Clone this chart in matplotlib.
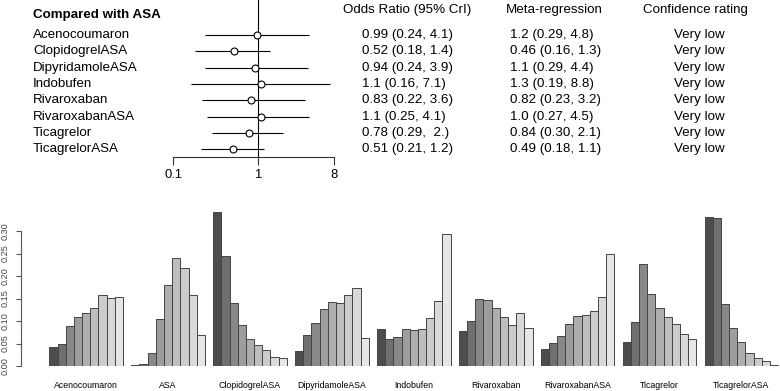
import numpy as np
import matplotlib
matplotlib.use("Agg")
import matplotlib.pyplot as plt
from matplotlib.transforms import blended_transform_factory

plt.rcParams['font.family'] = ['Liberation Sans', 'DejaVu Sans']

# forest plot data (compared with ASA)
treatments = ['Acenocoumaron', 'ClopidogrelASA', 'DipyridamoleASA', 'Indobufen',
              'Rivaroxaban', 'RivaroxabanASA', 'Ticagrelor', 'TicagrelorASA']
or_est = [0.99, 0.52, 0.94, 1.1, 0.83, 1.1, 0.78, 0.51]
or_low = [0.24, 0.18, 0.24, 0.16, 0.22, 0.25, 0.29, 0.21]
or_high = [4.1, 1.4, 3.9, 7.1, 3.6, 4.1, 2.0, 1.2]
or_text = ['0.99 (0.24, 4.1)', '0.52 (0.18, 1.4)', '0.94 (0.24, 3.9)', '1.1 (0.16, 7.1)',
           '0.83 (0.22, 3.6)', '1.1 (0.25, 4.1)', '0.78 (0.29,  2.)', '0.51 (0.21, 1.2)']
meta_text = ['1.2 (0.29, 4.8)', '0.46 (0.16, 1.3)', '1.1 (0.29, 4.4)', '1.3 (0.19, 8.8)',
             '0.82 (0.23, 3.2)', '1.0 (0.27, 4.5)', '0.84 (0.30, 2.1)', '0.49 (0.18, 1.1)']
confidence = ['Very low'] * 8
forest_ticks = [0.1, 1, 8]

# rank probabilities (9 ranks per treatment)
groups = ['Acenocoumaron', 'ASA', 'ClopidogrelASA', 'DipyridamoleASA', 'Indobufen',
          'Rivaroxaban', 'RivaroxabanASA', 'Ticagrelor', 'TicagrelorASA']
rank_probs = [
    [0.042, 0.050, 0.090, 0.109, 0.118, 0.129, 0.157, 0.151, 0.154],
    [0.002, 0.004, 0.029, 0.104, 0.179, 0.239, 0.217, 0.157, 0.068],
    [0.342, 0.244, 0.141, 0.092, 0.059, 0.047, 0.035, 0.020, 0.018],
    [0.033, 0.068, 0.096, 0.126, 0.142, 0.140, 0.158, 0.173, 0.063],
    [0.082, 0.060, 0.065, 0.083, 0.079, 0.083, 0.107, 0.145, 0.294],
    [0.077, 0.099, 0.149, 0.146, 0.129, 0.108, 0.091, 0.117, 0.085],
    [0.038, 0.051, 0.066, 0.093, 0.111, 0.113, 0.122, 0.153, 0.250],
    [0.054, 0.097, 0.226, 0.160, 0.129, 0.110, 0.093, 0.071, 0.060],
    [0.332, 0.328, 0.138, 0.085, 0.054, 0.029, 0.018, 0.012, 0.003],
]
yticks = [0.00, 0.05, 0.10, 0.15, 0.20, 0.25, 0.30]

W, H = 780, 391
fig = plt.figure(figsize=(W / 100, H / 100), dpi=100)


def px_box(left, top, right, bottom):
    return [left / W, 1 - bottom / H, (right - left) / W, (bottom - top) / H]


# ---- forest plot ----
row0, row_step = 35.0, 16.33
axis_y = 157.3
ax1 = fig.add_axes(px_box(173.3, 0, 334.0, axis_y))
ax1.set_xscale('log')
ax1.set_xlim(0.1, 8)
ax1.set_ylim((axis_y - row0) / row_step, -row0 / row_step)
rows = np.arange(len(treatments))
ax1.hlines(rows, or_low, or_high, color='black', lw=0.8)
ax1.axvline(1, color='black', lw=0.8)
ax1.plot(or_est, rows, 'o', ms=5, mfc='white', mec='black', mew=0.8)
for s in ['top', 'right', 'left']:
    ax1.spines[s].set_visible(False)
ax1.spines['bottom'].set_color('#333333')
ax1.spines['bottom'].set_linewidth(0.8)
ax1.set_yticks([])
ax1.set_xticks(forest_ticks)
ax1.set_xticklabels(['0.1', '1', '8'])
ax1.xaxis.set_minor_locator(matplotlib.ticker.NullLocator())
ax1.tick_params(axis='x', direction='out', length=5.8, width=0.8, color='#333333',
                pad=2.5, labelsize=9.4)

tr = blended_transform_factory(fig.transFigure, ax1.transData)
fs = 9.6
for i in rows:
    fig.text(33 / W, i, treatments[i], transform=tr, fontsize=fs, va='center')
    fig.text(362 / W, i, or_text[i], transform=tr, fontsize=fs, va='center')
    fig.text(510 / W, i, meta_text[i], transform=tr, fontsize=fs, va='center')
    fig.text(699 / W, i, confidence[i], transform=tr, fontsize=fs, va='center', ha='center')

fig.text(33 / W, 1 - 15 / H, 'Compared with ASA', fontsize=fs, fontweight='bold', va='center')
fig.text(343 / W, 1 - 10 / H, 'Odds Ratio (95% CrI)', fontsize=fs, va='center')
fig.text(506 / W, 1 - 10 / H, 'Meta-regression', fontsize=fs, va='center')
fig.text(695 / W, 1 - 10 / H, 'Confidence rating', fontsize=fs, va='center', ha='center')

# ---- rank barplot (R barplot beside=TRUE style) ----
n_rank = len(rank_probs[0])
gamma = 2.2
greys = np.linspace(0.3 ** gamma, 0.9 ** gamma, n_rank) ** (1 / gamma)
colors = [(g, g, g) for g in greys]

unit = 8.19
ax2 = fig.add_axes(px_box(21, 200, 780, 366))
ax2.set_xlim(-2.46, -2.46 + (780 - 21) / unit)
ax2.set_ylim(0, (366 - 200) / 450)
centers = []
for g, probs in enumerate(rank_probs):
    start = g * (n_rank + 1) + 1
    xs = start + np.arange(n_rank) + 0.5
    ax2.bar(xs, probs, width=1.0, color=colors, edgecolor='#444444', linewidth=0.7)
    centers.append(xs.mean())

for s in ['top', 'right', 'bottom']:
    ax2.spines[s].set_visible(False)
ax2.spines['left'].set_bounds(0, 0.30)
ax2.spines['left'].set_color('#555555')
ax2.spines['left'].set_linewidth(0.8)
ax2.set_yticks(yticks)
ax2.set_yticklabels(['%.2f' % v for v in yticks], rotation=90, va='center')
ax2.tick_params(axis='y', direction='out', length=3.8, width=0.8, color='#555555',
                pad=4.5, labelsize=6.6, labelcolor='#444444')
ax2.set_xticks(centers)
ax2.set_xticklabels(groups)
ax2.tick_params(axis='x', length=0, pad=10.5, labelsize=6.3)

fig.savefig('out.png', dpi=100)
